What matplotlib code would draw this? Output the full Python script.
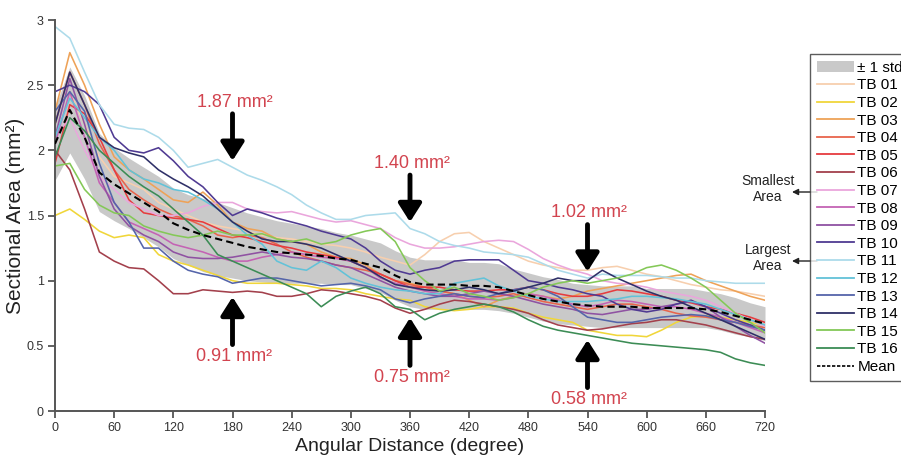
import numpy as np
import matplotlib
matplotlib.use("Agg")
import matplotlib.pyplot as plt
from matplotlib.patches import Patch, FancyArrowPatch
from matplotlib.lines import Line2D

plt.rcParams['font.family'] = ['Liberation Sans', 'DejaVu Sans']

# Angular positions (degrees), every 15 degrees
angle = list(range(0, 721, 15))

tb01 = [2.30, 2.45, 2.20, 1.95, 1.80, 1.75, 1.70, 1.60, 1.55, 1.50, 1.45, 1.42, 1.40, 1.38, 1.35, 1.33, 1.32,
        1.30, 1.28, 1.27, 1.25, 1.22, 1.18, 1.15, 1.12, 1.20, 1.30, 1.36, 1.37, 1.30, 1.25, 1.20, 1.15, 1.12,
        1.10, 1.08, 1.08, 1.10, 1.11, 1.08, 1.05, 1.03, 1.00, 0.97, 0.95, 0.93, 0.92, 0.90, 0.88]
tb02 = [1.50, 1.55, 1.47, 1.38, 1.33, 1.35, 1.33, 1.20, 1.15, 1.12, 1.08, 1.04, 1.00, 0.98, 0.98, 0.98, 0.97,
        0.96, 0.94, 0.94, 0.93, 0.90, 0.88, 0.86, 0.85, 0.80, 0.78, 0.77, 0.78, 0.80, 0.80, 0.79, 0.75, 0.72,
        0.70, 0.68, 0.62, 0.60, 0.58, 0.58, 0.57, 0.62, 0.68, 0.72, 0.73, 0.72, 0.70, 0.68, 0.66]
tb03 = [2.30, 2.75, 2.50, 2.20, 1.95, 1.85, 1.78, 1.70, 1.62, 1.60, 1.68, 1.58, 1.45, 1.40, 1.38, 1.32, 1.30,
        1.28, 1.22, 1.18, 1.17, 1.12, 1.05, 1.00, 0.98, 0.95, 0.92, 0.90, 0.85, 0.80, 0.85, 0.88, 0.90, 0.88,
        0.86, 0.88, 0.92, 0.94, 0.96, 0.98, 1.00, 1.02, 1.04, 1.05, 1.00, 0.96, 0.92, 0.88, 0.85]
tb04 = [2.20, 2.60, 2.35, 2.05, 1.85, 1.70, 1.62, 1.55, 1.50, 1.47, 1.42, 1.35, 1.33, 1.35, 1.33, 1.28, 1.22,
        1.18, 1.15, 1.12, 1.10, 1.08, 1.05, 1.00, 0.97, 0.95, 0.92, 0.90, 0.88, 0.87, 0.88, 0.90, 0.87, 0.84,
        0.82, 0.80, 0.78, 0.80, 0.82, 0.82, 0.80, 0.78, 0.75, 0.73, 0.72, 0.70, 0.68, 0.66, 0.64]
tb05 = [1.90, 2.35, 2.28, 2.10, 1.85, 1.62, 1.52, 1.50, 1.48, 1.47, 1.45, 1.40, 1.35, 1.33, 1.30, 1.27, 1.25,
        1.22, 1.20, 1.18, 1.15, 1.10, 1.05, 1.00, 0.95, 0.95, 0.95, 0.93, 0.92, 0.92, 0.93, 0.93, 0.95, 0.93,
        0.90, 0.88, 0.88, 0.90, 0.93, 0.92, 0.90, 0.88, 0.85, 0.83, 0.80, 0.78, 0.75, 0.72, 0.68]
tb06 = [2.00, 1.85, 1.55, 1.22, 1.15, 1.10, 1.09, 1.00, 0.90, 0.90, 0.93, 0.92, 0.91, 0.92, 0.91, 0.88, 0.88,
        0.90, 0.93, 0.92, 0.90, 0.88, 0.85, 0.79, 0.75, 0.78, 0.82, 0.85, 0.84, 0.82, 0.80, 0.78, 0.75, 0.70,
        0.66, 0.64, 0.62, 0.63, 0.65, 0.67, 0.68, 0.70, 0.70, 0.68, 0.66, 0.63, 0.60, 0.57, 0.55]
tb07 = [2.10, 2.25, 2.00, 1.80, 1.70, 1.60, 1.55, 1.50, 1.50, 1.52, 1.57, 1.60, 1.60, 1.55, 1.53, 1.52, 1.53,
        1.50, 1.47, 1.45, 1.46, 1.43, 1.40, 1.33, 1.28, 1.25, 1.25, 1.26, 1.28, 1.30, 1.31, 1.30, 1.24, 1.17,
        1.12, 1.08, 1.05, 1.00, 0.98, 0.97, 0.95, 0.92, 0.90, 0.88, 0.85, 0.80, 0.75, 0.70, 0.65]
tb08 = [2.05, 2.45, 2.10, 1.75, 1.60, 1.45, 1.40, 1.35, 1.28, 1.25, 1.22, 1.18, 1.15, 1.15, 1.18, 1.20, 1.22,
        1.20, 1.18, 1.17, 1.15, 1.10, 1.02, 0.98, 0.95, 0.92, 0.90, 0.88, 0.86, 0.86, 0.85, 0.87, 0.90, 0.88,
        0.85, 0.82, 0.80, 0.82, 0.85, 0.84, 0.82, 0.80, 0.80, 0.78, 0.75, 0.72, 0.68, 0.64, 0.60]
tb09 = [2.10, 2.55, 2.20, 1.80, 1.55, 1.42, 1.35, 1.30, 1.22, 1.18, 1.17, 1.17, 1.18, 1.20, 1.22, 1.20, 1.18,
        1.17, 1.15, 1.12, 1.10, 1.05, 1.00, 0.95, 0.92, 0.90, 0.88, 0.88, 0.90, 0.92, 0.90, 0.88, 0.85, 0.82,
        0.80, 0.78, 0.75, 0.74, 0.76, 0.78, 0.78, 0.80, 0.82, 0.84, 0.80, 0.72, 0.65, 0.58, 0.52]
tb10 = [2.45, 2.50, 2.45, 2.35, 2.10, 2.00, 1.98, 2.02, 1.92, 1.80, 1.72, 1.60, 1.50, 1.55, 1.52, 1.48, 1.45,
        1.42, 1.38, 1.35, 1.32, 1.25, 1.15, 1.08, 1.05, 1.08, 1.10, 1.15, 1.16, 1.16, 1.16, 1.08, 1.00, 0.98,
        0.95, 0.93, 0.90, 0.88, 0.82, 0.78, 0.76, 0.78, 0.82, 0.85, 0.80, 0.75, 0.70, 0.66, 0.62]
tb11 = [2.95, 2.86, 2.60, 2.35, 2.20, 2.17, 2.16, 2.10, 2.00, 1.87, 1.90, 1.93, 1.87, 1.81, 1.77, 1.72, 1.66,
        1.58, 1.52, 1.47, 1.47, 1.50, 1.51, 1.52, 1.40, 1.36, 1.30, 1.27, 1.25, 1.22, 1.21, 1.20, 1.18, 1.13,
        1.08, 1.05, 1.02, 1.05, 1.04, 1.04, 1.04, 1.03, 1.02, 1.02, 1.00, 0.99, 0.98, 0.98, 0.98]
tb12 = [2.10, 2.40, 2.25, 2.10, 2.00, 1.85, 1.78, 1.75, 1.70, 1.68, 1.62, 1.55, 1.45, 1.35, 1.28, 1.15, 1.10,
        1.08, 1.15, 1.10, 1.02, 0.98, 0.95, 0.93, 0.92, 0.90, 0.90, 0.98, 1.00, 1.02, 0.96, 0.92, 0.88, 0.86,
        0.84, 0.84, 0.84, 0.85, 0.86, 0.88, 0.88, 0.87, 0.86, 0.84, 0.82, 0.78, 0.74, 0.70, 0.66]
tb13 = [2.30, 2.45, 2.30, 1.90, 1.60, 1.45, 1.25, 1.25, 1.15, 1.08, 1.05, 1.03, 0.98, 1.00, 1.02, 1.02, 1.00,
        0.98, 0.96, 0.97, 0.98, 0.96, 0.93, 0.86, 0.83, 0.86, 0.88, 0.90, 0.88, 0.87, 0.90, 0.93, 0.95, 0.93,
        0.88, 0.80, 0.72, 0.70, 0.68, 0.68, 0.70, 0.72, 0.73, 0.74, 0.73, 0.70, 0.68, 0.65, 0.62]
tb14 = [2.20, 2.60, 2.35, 2.10, 2.02, 1.98, 1.95, 1.85, 1.78, 1.72, 1.65, 1.55, 1.45, 1.38, 1.32, 1.30, 1.30,
        1.28, 1.25, 1.20, 1.15, 1.10, 1.03, 0.97, 0.95, 0.93, 0.92, 0.93, 0.95, 0.93, 0.90, 0.92, 0.95, 0.98,
        1.02, 1.00, 1.00, 1.08, 1.02, 0.97, 0.92, 0.88, 0.85, 0.80, 0.75, 0.70, 0.65, 0.60, 0.55]
tb15 = [1.88, 1.90, 1.70, 1.58, 1.52, 1.50, 1.42, 1.38, 1.35, 1.33, 1.35, 1.38, 1.35, 1.35, 1.36, 1.32, 1.30,
        1.32, 1.28, 1.30, 1.35, 1.38, 1.40, 1.30, 1.10, 1.00, 0.92, 0.95, 0.90, 0.88, 0.85, 0.87, 0.90, 0.95,
        0.98, 1.00, 0.98, 1.00, 1.02, 1.05, 1.10, 1.12, 1.08, 1.02, 0.95, 0.85, 0.75, 0.68, 0.60]
tb16 = [1.95, 2.25, 2.15, 2.00, 1.90, 1.80, 1.72, 1.65, 1.55, 1.45, 1.35, 1.20, 1.15, 1.10, 1.05, 1.00, 0.95,
        0.90, 0.80, 0.88, 0.92, 0.95, 0.90, 0.80, 0.78, 0.70, 0.75, 0.78, 0.80, 0.82, 0.80, 0.76, 0.70, 0.65,
        0.62, 0.60, 0.58, 0.56, 0.54, 0.52, 0.51, 0.50, 0.49, 0.48, 0.47, 0.45, 0.40, 0.37, 0.35]

mean_area = [2.05, 2.31, 2.10, 1.83, 1.74, 1.67, 1.60, 1.53, 1.44, 1.39, 1.35, 1.32, 1.29, 1.26, 1.24, 1.22,
             1.21, 1.20, 1.19, 1.17, 1.16, 1.13, 1.10, 1.04, 0.99, 0.97, 0.97, 0.97, 0.96, 0.96, 0.95, 0.92,
             0.89, 0.86, 0.84, 0.82, 0.81, 0.80, 0.80, 0.80, 0.79, 0.79, 0.79, 0.79, 0.78, 0.76, 0.73, 0.70, 0.67]
std_area = [0.28, 0.33, 0.32, 0.30, 0.28, 0.27, 0.27, 0.27, 0.27, 0.27, 0.28, 0.28, 0.27, 0.26, 0.25, 0.24,
            0.23, 0.22, 0.21, 0.20, 0.19, 0.19, 0.19, 0.19, 0.19, 0.19, 0.19, 0.19, 0.18, 0.18, 0.18, 0.17,
            0.17, 0.17, 0.17, 0.16, 0.16, 0.16, 0.16, 0.16, 0.15, 0.15, 0.15, 0.15, 0.14, 0.14, 0.14, 0.13, 0.13]

series_names = ["TB 01", "TB 02", "TB 03", "TB 04", "TB 05", "TB 06", "TB 07", "TB 08",
                "TB 09", "TB 10", "TB 11", "TB 12", "TB 13", "TB 14", "TB 15", "TB 16"]
series = [tb01, tb02, tb03, tb04, tb05, tb06, tb07, tb08, tb09, tb10, tb11, tb12, tb13, tb14, tb15, tb16]
colors = ["#f7cfae", "#f0d63a", "#eea257", "#e8644c", "#e63c3f", "#a3404c", "#eaa6dc", "#c463b4",
          "#8f52a2", "#4f3a92", "#addbea", "#62c2d8", "#5565aa", "#2f3068", "#84c857", "#3c8c55"]

# Extreme sectional areas marked with arrows
marks_top = [(180, 1.87), (360, 1.40), (540, 1.02)]
marks_bottom = [(180, 0.91), (360, 0.75), (540, 0.58)]

fig = plt.figure(figsize=(9.01, 4.57), dpi=100)
ax = fig.add_axes([55 / 901, 1 - 411 / 457, 710 / 901, 391 / 457])

x = np.array(angle)
m = np.array(mean_area)
s = np.array(std_area)
ax.fill_between(x, m - s, m + s, color="#c9c9c9", lw=0, zorder=1)
for vals, c in zip(series, colors):
    ax.plot(x, vals, color=c, lw=1.15, zorder=2)
ax.plot(x, m, color="black", lw=1.5, ls=(0, (3.5, 2)), zorder=3)

ax.set_xlim(0, 720)
ax.set_ylim(0, 3)
ax.set_xticks(range(0, 721, 60))
ax.set_yticks([0, 0.5, 1, 1.5, 2, 2.5, 3])
ax.set_yticklabels(["0", "0.5", "1", "1.5", "2", "2.5", "3"])
for sp in ["top", "right"]:
    ax.spines[sp].set_visible(False)
for sp in ["left", "bottom"]:
    ax.spines[sp].set_color("#555555")
    ax.spines[sp].set_linewidth(1.4)
ax.tick_params(direction="out", length=5, width=1.3, color="#555555", labelsize=9,
               labelcolor="#333333", pad=3)
ax.set_xlabel("Angular Distance (degree)", fontsize=14, color="#222222", labelpad=3)
ax.set_ylabel("Sectional Area (mm²)", fontsize=15, color="#222222", labelpad=1)

red = "#d2444f"
arrow_kw = dict(arrowstyle="-|>,head_width=0.35,head_length=0.55", lw=3.5, color="black",
                shrinkA=0, shrinkB=0, mutation_scale=20)
for xa, v in marks_top:
    ax.annotate("", xy=(xa, v + 0.05), xytext=(xa, v + 0.41), arrowprops=arrow_kw, zorder=5)
    ax.text(xa + 2, v + 0.50, f"{v:.2f} mm²", color=red, fontsize=13, ha="center", va="center")
for xa, v in marks_bottom:
    ax.annotate("", xy=(xa, v - 0.035), xytext=(xa, v - 0.40), arrowprops=arrow_kw, zorder=5)
    ax.text(xa + 2, v - 0.49, f"{v:.2f} mm²", color=red, fontsize=13, ha="center", va="center")

handles = [Patch(facecolor="#c9c9c9", edgecolor="none", label="± 1 std")]
for name, c in zip(series_names, colors):
    handles.append(Line2D([], [], color=c, lw=1.3, label=name))
handles.append(Line2D([], [], color="black", lw=1.2, ls=(0, (2, 1)), label="Mean"))
leg = fig.legend(handles=handles, loc="upper left", bbox_to_anchor=(810 / 901, 1 - 54 / 457),
                 frameon=True, fancybox=False, fontsize=11, handlelength=2.4, handletextpad=0.25,
                 labelspacing=0.235, borderpad=0.45, borderaxespad=0)
leg.get_frame().set_edgecolor("#333333")
leg.get_frame().set_linewidth(1.0)

# Pointers from the legend to the smallest and largest cases
for label, ytext, yarrow in [("Smallest\nArea", 189, 192), ("Largest\nArea", 258, 261)]:
    fig.text(768 / 901, 1 - ytext / 457, label, fontsize=10, ha="center", va="center",
             color="#222222", linespacing=1.15)
    yf = 1 - yarrow / 457
    fig.add_artist(FancyArrowPatch(
        (817 / 901, yf), (792 / 901, yf), transform=fig.transFigure,
        arrowstyle="-|>,head_width=0.15,head_length=0.3", mutation_scale=12,
        lw=1.0, color="#222222", shrinkA=0, shrinkB=0))

fig.savefig("out.png", dpi=100)
